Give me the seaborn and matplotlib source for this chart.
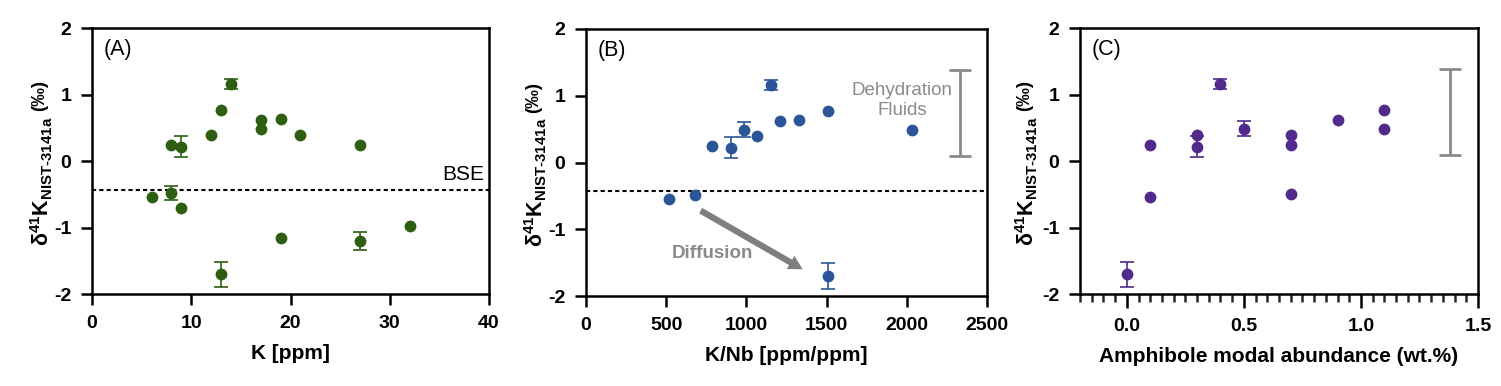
import numpy as np
import pandas as pd
import seaborn as sns
import matplotlib.pyplot as plt
import matplotlib.transforms as mtransforms
from matplotlib.ticker import MultipleLocator

sns.set_style("ticks")
plt.rcParams['font.family'] = ['Liberation Sans', 'DejaVu Sans']
plt.rcParams['mathtext.fontset'] = 'custom'
plt.rcParams['mathtext.rm'] = 'Liberation Sans:bold'
plt.rcParams['mathtext.it'] = 'Liberation Sans:bold'
plt.rcParams['mathtext.bf'] = 'Liberation Sans:bold'
plt.rcParams['mathtext.default'] = 'bf'
plt.rcParams['text.color'] = 'black'
plt.rcParams['axes.labelcolor'] = 'black'
plt.rcParams['axes.unicode_minus'] = False

# panel A: K [ppm]
k_ppm = [6, 8, 8, 9, 9, 12, 13, 13, 14, 17, 17, 19, 19, 21, 27, 27, 32]
d41k_a = [-0.54, 0.24, -0.48, 0.22, -0.70, 0.40, 0.77, -1.70, 1.16, 0.62, 0.49, 0.63, -1.15, 0.40, 0.24, -1.20, -0.98]
err_a = [0, 0, 0.10, 0.16, 0, 0, 0, 0.19, 0.08, 0, 0, 0, 0, 0, 0, 0.13, 0]

# panel B: K/Nb
k_nb = [520, 680, 786, 903, 986, 1065, 1152, 1210, 1327, 1512, 2034, 1512]
d41k_b = [-0.54, -0.49, 0.24, 0.22, 0.49, 0.40, 1.16, 0.62, 0.63, 0.77, 0.49, -1.70]
err_b = [0, 0, 0, 0.16, 0.11, 0, 0.08, 0, 0, 0, 0, 0.19]

# panel C: amphibole modal abundance
amph = [0.0, 0.1, 0.1, 0.3, 0.3, 0.4, 0.5, 0.7, 0.7, 0.7, 0.9, 1.1, 1.1]
d41k_c = [-1.70, 0.24, -0.54, 0.40, 0.22, 1.16, 0.49, 0.40, 0.24, -0.49, 0.62, 0.77, 0.49]
err_c = [0.19, 0, 0, 0, 0.16, 0.08, 0.11, 0, 0, 0, 0, 0, 0]

bse = -0.43
fluid_lo, fluid_hi = 0.10, 1.38

ylab = r"δ$^{41}$K$_{NIST\text{-}3141a}$"

fig = plt.figure(figsize=(15.01, 3.86), dpi=100)
ax_a = fig.add_axes([0.0613, 0.238, 0.2645, 0.689])
ax_b = fig.add_axes([0.3904, 0.233, 0.2671, 0.692])
ax_c = fig.add_axes([0.7195, 0.238, 0.2652, 0.689])


def draw(ax, x, y, err, color, xlabel, letter, yoff):
    df = pd.DataFrame({"x": x, "y": y, "err": err})
    e = df[df["err"] > 0]
    ax.errorbar(e["x"], e["y"], yerr=e["err"], fmt="none", ecolor=color,
                elinewidth=1.2, capsize=5, capthick=1.2, zorder=2)
    sns.scatterplot(data=df, x="x", y="y", ax=ax, color=color, s=72,
                    edgecolor=color, linewidth=0, zorder=3, legend=False)
    ax.set_ylim(-2, 2)
    ax.set_yticks([-2, -1, 0, 1, 2])
    ax.set_xlabel(xlabel, fontsize=15, fontweight="bold", labelpad=9)
    ax.set_ylabel("")
    # y label drawn by hand so the (‰) can be smaller and raised
    tr = ax.transAxes + mtransforms.ScaledTranslation(yoff / 100, 0, fig.dpi_scale_trans)
    ax.text(0, 0.425, ylab, transform=tr, rotation=90, rotation_mode="anchor",
            ha="center", va="baseline", fontsize=15.5, fontweight="bold")
    tr2 = ax.transAxes + mtransforms.ScaledTranslation((yoff - 5) / 100, 0, fig.dpi_scale_trans)
    ax.text(0, 0.745, "(‰)", transform=tr2, rotation=90, rotation_mode="anchor",
            ha="center", va="baseline", fontsize=13.5, fontweight="bold")
    for s in ax.spines.values():
        s.set_linewidth(1.8)
        s.set_color("black")
    ax.tick_params(axis="both", which="major", direction="out", length=8, width=1.8,
                   labelsize=14, colors="black", pad=7)
    for lab in ax.get_xticklabels() + ax.get_yticklabels():
        lab.set_fontweight("bold")
    ax.text(0.03, 0.92, letter, transform=ax.transAxes, fontsize=15.5, va="center", ha="left")


draw(ax_a, k_ppm, d41k_a, err_a, "#2d5e12", "K [ppm]", "(A)", -43)
ax_a.set_xlim(0, 40)
ax_a.set_xticks([0, 10, 20, 30, 40])
ax_a.axhline(bse, color="black", linestyle=(0, (2, 1.5)), linewidth=1.5, zorder=1)
ax_a.text(39.5, bse + 0.08, "BSE", ha="right", va="bottom", fontsize=15)

draw(ax_b, k_nb, d41k_b, err_b, "#2b5597", "K/Nb [ppm/ppm]", "(B)", -43)
ax_b.set_xlim(0, 2500)
ax_b.set_xticks([0, 500, 1000, 1500, 2000, 2500])
ax_b.axhline(bse, color="black", linestyle=(0, (2, 1.5)), linewidth=1.5, zorder=1)
ax_b.errorbar([2330], [(fluid_lo + fluid_hi) / 2], yerr=[(fluid_hi - fluid_lo) / 2],
              fmt="none", ecolor="#8a8a8a", elinewidth=2, capsize=8, capthick=2)
ax_b.text(1970, 0.93, "Dehydration\nFluids", ha="center", va="center",
          fontsize=13.5, color="#8a8a8a", linespacing=1.2)
ax_b.annotate("", xy=(1366, -1.62), xytext=(700, -0.70),
              arrowprops=dict(arrowstyle="simple,head_width=1.1,head_length=1.0,tail_width=0.45",
                              color="#7f7f7f", lw=0))
ax_b.text(790, -1.37, "Diffusion", ha="center", va="center", fontsize=13.5,
          fontweight="bold", color="#8a8a8a")

draw(ax_c, amph, d41k_c, err_c, "#512a8c", "Amphibole modal abundance (wt.%)", "(C)", -46)
ax_c.set_xlim(-0.2, 1.5)
ax_c.set_xticks([0.0, 0.5, 1.0, 1.5])
ax_c.set_xticklabels(["0.0", "0.5", "1.0", "1.5"], fontweight="bold")
ax_c.xaxis.set_minor_locator(MultipleLocator(0.05))
ax_c.tick_params(axis="x", which="minor", direction="out", length=5.5, width=1.8)
ax_c.tick_params(axis="x", which="major", length=10)
ax_c.errorbar([1.38], [(fluid_lo + fluid_hi) / 2], yerr=[(fluid_hi - fluid_lo) / 2],
              fmt="none", ecolor="#8a8a8a", elinewidth=2, capsize=8, capthick=2)

fig.savefig("out.png", dpi=100)
